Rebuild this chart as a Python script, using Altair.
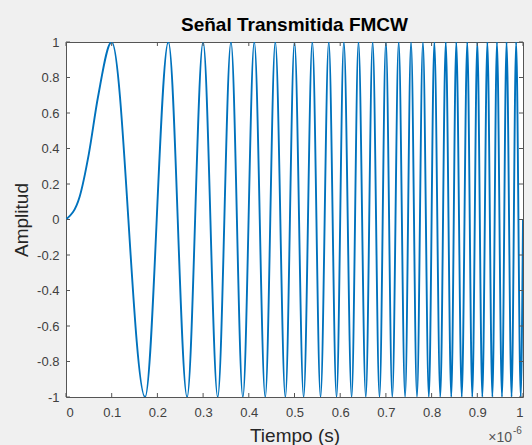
import altair as alt
import pandas as pd

# ---- data (times in microseconds, shown with x10^-6 axis) ----
rise_t = [0.0, 0.03, 0.05, 0.07]
rise_y = [0.0, 0.13, 0.37, 0.69]
peak_t = [0.100, 0.224, 0.300, 0.361, 0.412, 0.458, 0.500, 0.539, 0.575, 0.608,
          0.640, 0.671, 0.700, 0.728, 0.755, 0.781, 0.806, 0.831, 0.854, 0.878,
          0.900, 0.922, 0.943, 0.964, 0.985]
trough_t = [0.173, 0.265, 0.332, 0.387, 0.436, 0.480, 0.520, 0.557, 0.592, 0.625,
            0.656, 0.686, 0.714, 0.742, 0.768, 0.794, 0.819, 0.843, 0.866, 0.889,
            0.911, 0.933, 0.954, 0.975, 0.995]
end_t = [1.0]
end_y = [0.0]

x_ticks = [0, 0.1, 0.2, 0.3, 0.4, 0.5, 0.6, 0.7, 0.8, 0.9, 1]
y_ticks = [-1, -0.8, -0.6, -0.4, -0.2, 0, 0.2, 0.4, 0.6, 0.8, 1]

title_text = "Señal Transmitida FMCW"
x_title = "Tiempo (s)"
y_title = "Amplitud"
exp_base = "×10"
exp_power = "-6"

# ---- build table ----
rows = [(t, y) for t, y in zip(rise_t, rise_y)]
rows += [(t, 1.0) for t in peak_t]
rows += [(t, -1.0) for t in trough_t]
rows += [(t, y) for t, y in zip(end_t, end_y)]
sig = pd.DataFrame(rows, columns=["t", "y"]).sort_values("t").reset_index(drop=True)
sig["order"] = range(len(sig))

W, H = 457, 355
FONT = "Liberation Sans"
xs = alt.Scale(domain=[0, 1], nice=False, zero=False)
ys = alt.Scale(domain=[-1, 1], nice=False, zero=False)
xaxis = alt.Axis(values=x_ticks, title=x_title, labelExpr="'' + datum.value",
                 labelPadding=9, titlePadding=7)
yaxis = alt.Axis(values=y_ticks, title=y_title, labelExpr="'' + datum.value",
                 labelPadding=7, titlePadding=5)

line = alt.Chart(sig).mark_line(
    color="#0072BD", strokeWidth=1.9, interpolate="monotone", clip=True
).encode(
    x=alt.X("t:Q", scale=xs, axis=xaxis),
    y=alt.Y("y:Q", scale=ys, axis=yaxis),
    order="order:Q",
)

xt = pd.DataFrame({"t": x_ticks})
yt = pd.DataFrame({"y": y_ticks})
TC = "#555555"
xb = alt.Chart(xt).mark_rule(color=TC, strokeWidth=1).encode(
    x=alt.X("t:Q", scale=xs, axis=xaxis), y=alt.value(H), y2=alt.value(H - 4))
xtop = alt.Chart(xt).mark_rule(color=TC, strokeWidth=1).encode(
    x=alt.X("t:Q", scale=xs, axis=xaxis), y=alt.value(0), y2=alt.value(4))
yl = alt.Chart(yt).mark_rule(color=TC, strokeWidth=1).encode(
    y=alt.Y("y:Q", scale=ys, axis=yaxis), x=alt.value(0), x2=alt.value(4))
yr = alt.Chart(yt).mark_rule(color=TC, strokeWidth=1).encode(
    y=alt.Y("y:Q", scale=ys, axis=yaxis), x=alt.value(W), x2=alt.value(W - 4))

eb = alt.Chart(pd.DataFrame({"s": [exp_base]})).mark_text(
    font=FONT, fontSize=14, color="#555555", align="right", baseline="alphabetic"
).encode(x=alt.value(446), y=alt.value(400), text="s:N")
ep = alt.Chart(pd.DataFrame({"s": [exp_power]})).mark_text(
    font=FONT, fontSize=10, color="#555555", align="left", baseline="alphabetic"
).encode(x=alt.value(447), y=alt.value(392), text="s:N")

chart = alt.layer(line, xb, xtop, yl, yr, eb, ep).properties(
    width=W, height=H,
    padding={"left": 66, "top": 42, "right": 9, "bottom": 48},
    autosize=alt.AutoSizeParams(type="none"),
    background="#f0f0f0",
    title=alt.TitleParams(title_text, font=FONT, fontSize=19, fontWeight="bold",
                          color="#000000", offset=1, anchor="middle"),
).configure_view(
    stroke="#555555", strokeWidth=1, fill="white"
).configure_axis(
    domain=False, ticks=False, tickSize=0, grid=False,
    labelFont=FONT, labelFontSize=13, labelColor="#404040",
    titleFont=FONT, titleFontSize=19, titleFontWeight="normal", titleColor="#262626",
)

chart.save("out.html", embed_options={"renderer": "svg", "actions": False})
